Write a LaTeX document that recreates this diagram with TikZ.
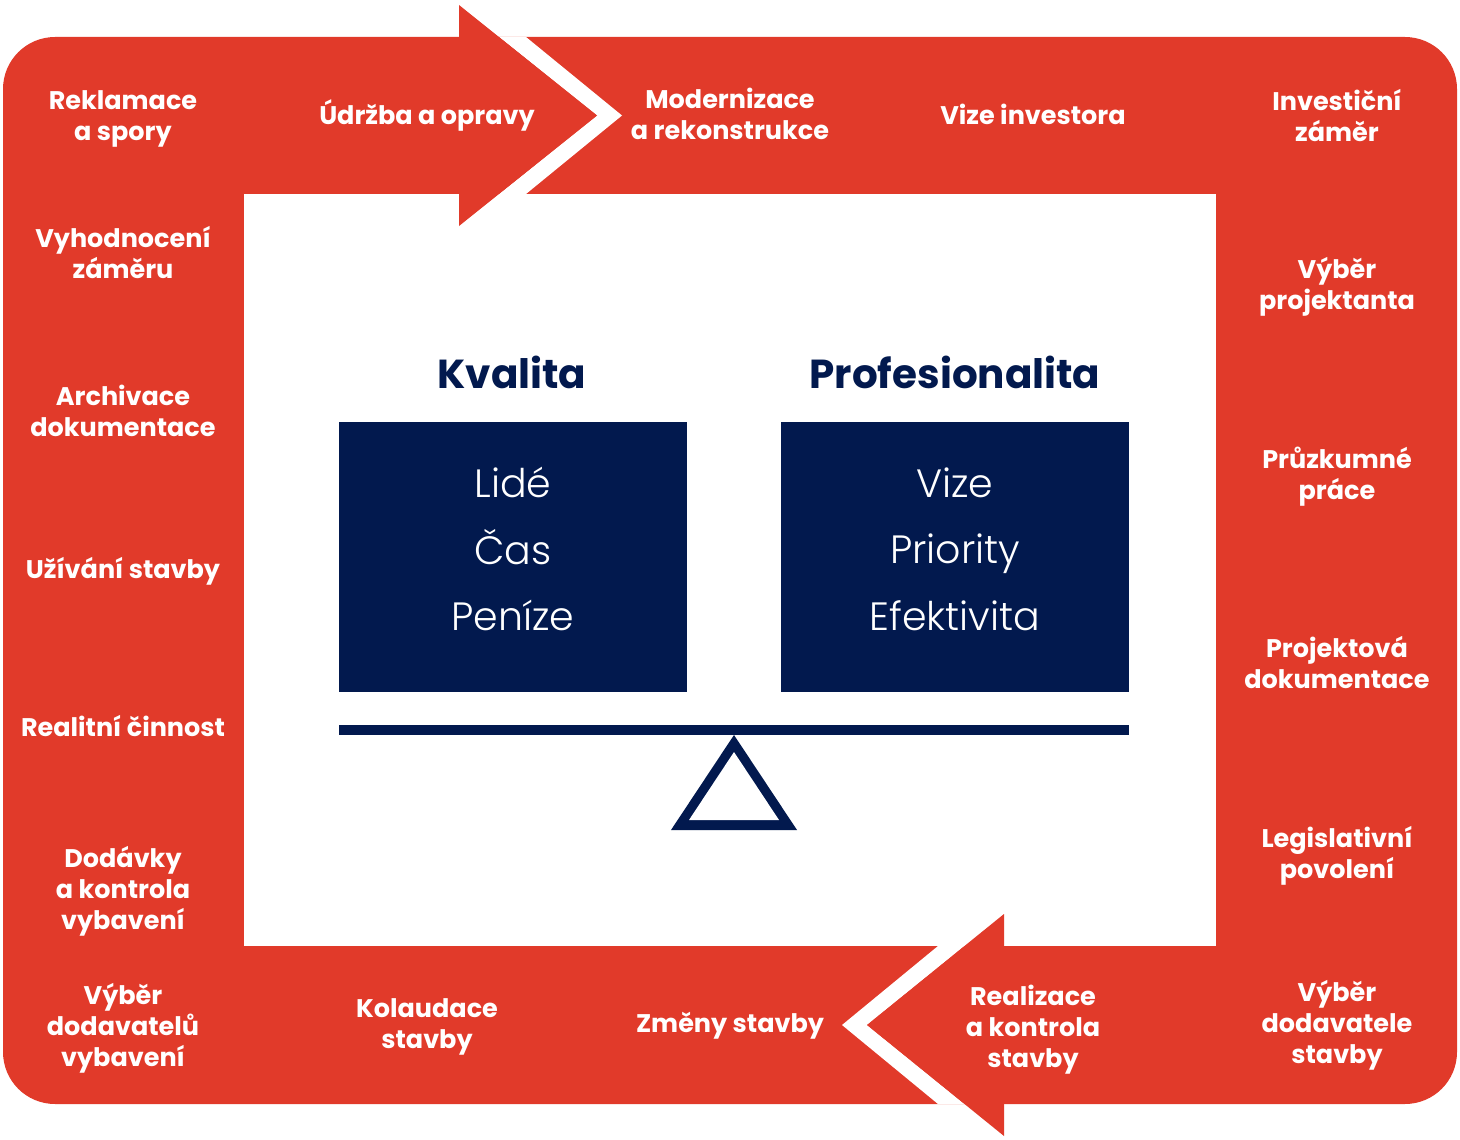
\documentclass[tikz,border=0pt]{standalone}
\usepackage{fontspec}
\setmainfont{Poppins}
\newfontfamily\lightfont{Poppins Light}
\definecolor{cred}{HTML}{E13A2A}
\definecolor{navy}{HTML}{02194E}
\tikzset{
  lbl/.style={text=white, font=\bfseries\fontsize{25.5}{31}\selectfont, align=center, inner sep=0pt},
  head/.style={text=navy, font=\bfseries\fontsize{40.5}{48}\selectfont, inner sep=0pt},
  boxtxt/.style={text=white, font=\lightfont\fontsize{39.5}{44}\selectfont, inner sep=0pt, anchor=base},
  navybox/.style={fill=navy, draw=none, minimum width=348pt, minimum height=270pt, inner sep=0pt}
}
\begin{document}
\begin{tikzpicture}[x=1pt,y=-1pt]
\useasboundingbox (0,0) rectangle (1460,1140);
% red frame
\fill[cred, rounded corners=52pt] (3,37) rectangle (1457,1104);
\fill[white] (244,194) rectangle (1216,946);
% top arrow
\fill[white] (499,37) -- (526,37) -- (622,115.5) -- (526,194) -- (499,194) -- (597,115.5) -- cycle;
\fill[cred] (459,5) -- (597,115.5) -- (459,226) -- cycle;
% bottom arrow
\fill[white] (938,946) -- (964.5,946) -- (867,1025) -- (964.5,1104) -- (938,1104) -- (842,1025) -- cycle;
\fill[cred] (1004,914) -- (867,1025) -- (1004,1136) -- cycle;
% boxes
\node[navybox] (lbox) at (513,557) {};
\node[navybox] (rbox) at (955,557) {};
\node[head] (kval) at (512,372) {Kvalita};
\node[head] (prof) at (955,372) {Profesionalita};
\node[boxtxt] (t1) at (513,497) {Lidé};
\node[boxtxt] (t2) at (513,564.5) {Čas};
\node[boxtxt] (t3) at (513,630) {Peníze};
\node[boxtxt] (t4) at (955,497) {Vize};
\node[boxtxt] (t5) at (955,563.5) {Priority};
\node[boxtxt] (t6) at (955,630) {Efektivita};
% balance
\fill[navy] (339,725) rectangle (1129,735);
\fill[navy] (734,735) -- (671,830) -- (797,830) -- cycle;
\fill[white] (734,752) -- (689,820) -- (779,820) -- cycle;
% left column
\node[lbl] (a1) at (123,118.5) {Reklamace\\a spory};
\node[lbl] (a2) at (123,252.5) {Vyhodnocení\\záměru};
\node[lbl] (a3) at (123,410.5) {Archivace\\dokumentace};
\node[lbl] (a4) at (123,571) {Užívání stavby};
\node[lbl] (a5) at (123,726) {Realitní činnost};
\node[lbl] (a6) at (123,891) {Dodávky\\a kontrola\\vybavení};
\node[lbl] (a7) at (123,1028) {Výběr\\dodavatelů\\vybavení};
% top row
\node[lbl] (b1) at (427,115) {Údržba a opravy};
\node[lbl] (b2) at (730,114) {Modernizace\\a rekonstrukce};
\node[lbl] (b3) at (1033,114) {Vize investora};
\node[lbl] (b4) at (1337,116) {Investiční\\záměr};
% right column
\node[lbl] (c1) at (1337,287) {Výběr\\projektanta};
\node[lbl] (c2) at (1337,477) {Průzkumné\\práce};
\node[lbl] (c3) at (1337,663) {Projektová\\dokumentace};
\node[lbl] (c4) at (1337,856) {Legislativní\\povolení};
\node[lbl] (c5) at (1337,1025) {Výběr\\dodavatele\\stavby};
% bottom row
\node[lbl] (d1) at (427,1027) {Kolaudace\\stavby};
\node[lbl] (d2) at (730,1026) {Změny stavby};
\node[lbl] (d3) at (1033,1029.5) {Realizace\\a kontrola\\stavby};
\end{tikzpicture}
\end{document}
